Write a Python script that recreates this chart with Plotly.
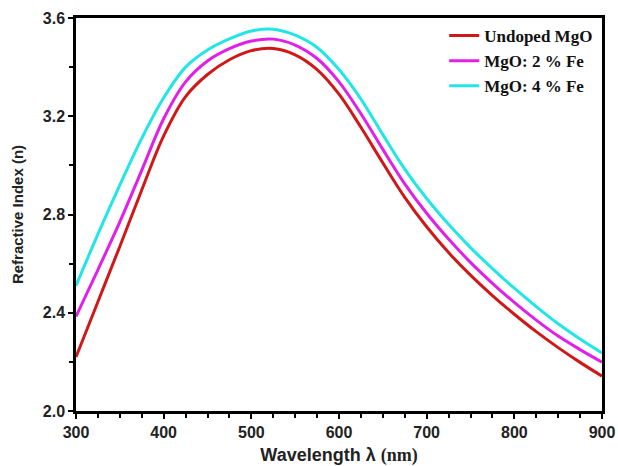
import plotly.graph_objects as go

wavelength = [300, 325, 350, 375, 400, 425, 450, 475, 500, 525, 550, 575, 600,
              625, 650, 675, 700, 725, 750, 775, 800, 825, 850, 875, 900]

n_undoped = [2.22, 2.445, 2.67, 2.90, 3.12, 3.28, 3.37, 3.43, 3.467, 3.476, 3.45, 3.39, 3.29,
             3.155, 3.01, 2.87, 2.75, 2.645, 2.553, 2.47, 2.394, 2.323, 2.258, 2.198, 2.142]

n_fe2 = [2.385, 2.575, 2.77, 2.98, 3.19, 3.34, 3.425, 3.475, 3.506, 3.514, 3.49, 3.435, 3.34,
         3.21, 3.065, 2.925, 2.805, 2.70, 2.605, 2.52, 2.442, 2.37, 2.305, 2.25, 2.199]

n_fe4 = [2.51, 2.72, 2.92, 3.11, 3.275, 3.40, 3.47, 3.515, 3.547, 3.554, 3.53, 3.48, 3.39,
         3.27, 3.125, 2.985, 2.865, 2.76, 2.665, 2.58, 2.50, 2.425, 2.355, 2.293, 2.236]

series_names = ["Undoped MgO", "MgO: 2 % Fe", "MgO: 4 % Fe"]
series_colors = ["#D01818", "#E020E8", "#22E6E6"]

x_ticks = [300, 400, 500, 600, 700, 800, 900]
y_ticks = [2.0, 2.4, 2.8, 3.2, 3.6]

fig = go.Figure()
for name, vals, col in zip(series_names, [n_undoped, n_fe2, n_fe4], series_colors):
    fig.add_trace(go.Scatter(x=wavelength, y=vals, mode="lines", name=name,
                             line=dict(color=col, width=3, shape="spline", smoothing=1.0)))

axis_font = dict(family="Liberation Sans, Arial", size=16, color="#222", weight="bold")

fig.update_layout(
    width=618, height=466,
    margin=dict(l=76, r=16, t=18, b=55),
    paper_bgcolor="white", plot_bgcolor="white",
    showlegend=True,
    legend=dict(x=0.70, y=1.0, xanchor="left", yanchor="top",
                bgcolor="rgba(0,0,0,0)", borderwidth=0,
                font=dict(family="Liberation Serif, Times New Roman", size=17, color="#111", weight="bold"),
                itemwidth=30),
    xaxis=dict(range=[300, 900], tickvals=x_ticks, ticks="outside", ticklen=5, tickwidth=2,
               tickcolor="black", showline=True, linecolor="black", linewidth=2.5, mirror=True,
               showgrid=False, zeroline=False, tickfont=axis_font, automargin=False,
               ticklabeloverflow="allow",
               minor=dict(dtick=25, ticks="outside", ticklen=4, tickwidth=2, tickcolor="black", showgrid=False),
               title=dict(text="<b>Wavelength λ</b> <span style='font-family:Liberation Serif'><b>(nm)</b></span>",
                          font=dict(family="Liberation Sans, Arial", size=18, color="#222"), standoff=10)),
    yaxis=dict(range=[2.0, 3.6], tickvals=y_ticks, tickformat=".1f", ticks="outside", ticklen=5, tickwidth=2,
               tickcolor="black", showline=True, linecolor="black", linewidth=2.5, mirror=True,
               showgrid=False, zeroline=False, tickfont=axis_font, automargin=False,
               ticklabeloverflow="allow",
               minor=dict(dtick=0.2, ticks="outside", ticklen=4, tickwidth=2, tickcolor="black", showgrid=False),
               title=dict(text="<b>Refractive Index (n)</b>",
                          font=dict(family="Liberation Sans, Arial", size=15, color="#222"), standoff=16)),
)

fig.write_html("out.html", config={"displayModeBar": False},
               post_script="document.body.style.margin='0';document.body.style.overflow='hidden';")
